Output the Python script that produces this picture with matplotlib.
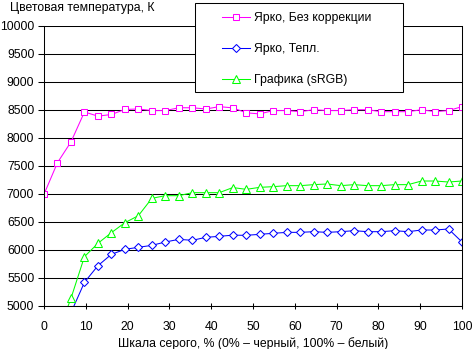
import matplotlib
matplotlib.use("Agg")
import matplotlib.pyplot as plt
import numpy as np
from matplotlib.patches import Rectangle

plt.rcParams['font.family'] = ['Liberation Sans', 'DejaVu Sans']

# gray level, % (32 steps from 0 to 100)
gray = np.arange(32) * 100 / 31

bright_nocorr = [6995, 7560, 7930, 8465, 8390, 8420, 8510, 8518, 8490, 8490,
                 8540, 8540, 8518, 8560, 8538, 8450, 8430, 8490, 8490, 8470,
                 8505, 8490, 8490, 8505, 8505, 8470, 8470, 8470, 8505, 8470,
                 8490, 8560]
bright_warm = [3600, 4300, 4880, 5423, 5720, 5923, 6012, 6048, 6083, 6143,
               6190, 6173, 6226, 6244, 6265, 6262, 6280, 6298, 6315, 6315,
               6327, 6315, 6327, 6345, 6327, 6327, 6345, 6327, 6357, 6357,
               6375, 6143]
graphics_srgb = [3800, 4490, 5137, 5881, 6119, 6310, 6488, 6613, 6923, 6970,
                 6970, 7024, 7024, 7024, 7115, 7083, 7119, 7131, 7149, 7149,
                 7167, 7179, 7149, 7167, 7149, 7149, 7167, 7167, 7232, 7232,
                 7214, 7232]

labels = ["Ярко, Без коррекции", "Ярко, Тепл.", "Графика (sRGB)"]

W, H = 472, 349
fig = plt.figure(figsize=(W / 100, H / 100), dpi=100)
ax = fig.add_axes([44 / W, 1 - 306 / H, (462 - 44) / W, (306 - 26) / H])

lw = 0.75
ax.plot(gray, bright_nocorr, color='#ff00ff', lw=lw, marker='s', ms=5,
        mfc='white', mec='#ff00ff', mew=lw, label=labels[0])
ax.plot(gray, bright_warm, color='#0000ff', lw=lw, marker='D', ms=4.2,
        mfc='white', mec='#0000ff', mew=lw, label=labels[1])
ax.plot(gray, graphics_srgb, color='#00ff00', lw=lw, marker='^', ms=6,
        mfc='white', mec='#00ff00', mew=lw, label=labels[2])

ax.set_xlim(0, 100)
ax.set_ylim(5000, 10000)
ax.set_xticks(np.arange(0, 101, 10))
ax.set_yticks(np.arange(5000, 10001, 500))
ax.yaxis.grid(True, color='black', lw=0.75)
ax.set_axisbelow(True)
for s in ['left', 'bottom', 'right']:
    ax.spines[s].set_linewidth(0.75)
ax.spines['top'].set_visible(False)
ax.tick_params(axis='x', direction='inout', length=5, width=0.75, pad=8, labelsize=8.8)
ax.tick_params(axis='y', direction='out', length=4, width=0.75, pad=3, labelsize=8.8)
ax.set_xlabel("Шкала серого, % (0% – черный, 100% – белый)", fontsize=8.8, labelpad=3)

fig.text(10 / W, 1 - 8 / H, "Цветовая температура, К", fontsize=8.8, va='center', ha='left')

# legend box
fig.patches.append(Rectangle((195 / W, 1 - 92 / H), (403 - 195) / W, (92 - 3) / H,
                             transform=fig.transFigure, facecolor='white',
                             edgecolor='black', lw=0.75, zorder=1))
h, l = ax.get_legend_handles_labels()
fig.legend(h, l, loc='upper left', bbox_to_anchor=(222 / W, 1 - 12 / H),
           frameon=False, fontsize=8.8, borderpad=0, borderaxespad=0,
           handlelength=2.3, handletextpad=0.3, labelspacing=1.55)

fig.savefig("out.png", dpi=100)
